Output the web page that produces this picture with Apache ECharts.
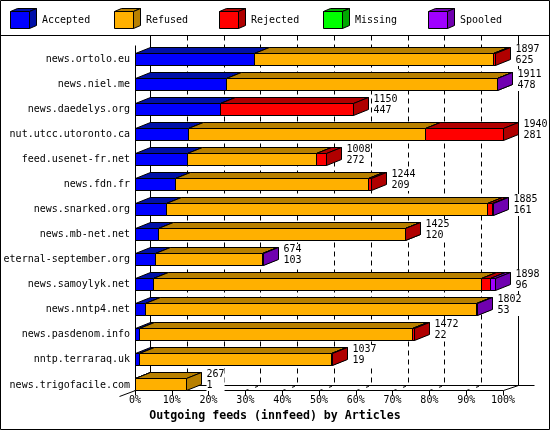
<!DOCTYPE html>
<html><head><meta charset="utf-8">
<script src="https://cdn.jsdelivr.net/npm/echarts@6/dist/echarts.min.js"></script>
<style>html,body{margin:0;padding:0;background:#fff}#c{width:550px;height:430px}</style>
</head><body><div id="c"></div>
<script>
// ---- data ----
const categories = ['news.ortolo.eu','news.niel.me','news.daedelys.org','nut.utcc.utoronto.ca','feed.usenet-fr.net','news.fdn.fr','news.snarked.org','news.mb-net.net','eternal-september.org','news.samoylyk.net','news.nntp4.net','news.pasdenom.info','nntp.terraraq.uk','news.trigofacile.com'];
const offered  = [1897,1911,1150,1940,1008,1244,1885,1425,674,1898,1802,1472,1037,267];
const accepted = [625,478,447,281,272,209,161,120,103,96,53,22,19,1];
const refused  = [1261,1430,0,1249,680,1020,1695,1303,569,1728,1747,1437,1016,266];
const rejected = [11,0,703,410,56,15,27,2,0,49,0,13,2,0];
const missing  = [0,0,0,0,0,0,0,0,0,0,0,0,0,0];
const spooled  = [0,3,0,0,0,0,2,0,2,25,2,0,0,0];
const seriesNames = ['Accepted','Refused','Rejected','Missing','Spooled'];
const axisTitle = 'Outgoing feeds (innfeed) by Articles';

// ---- style ----
const seriesData = [accepted, refused, rejected, missing, spooled];
const frontColors = ['#0000ff','#ffb000','#ff0000','#00ff00','#a000ff'];
const darkColors  = ['#0010a8','#b88000','#b00000','#00a800','#7000b0'];
const FONT = '"DejaVu Sans Mono", monospace';
const DX = 15, DY = -6, WDY = -5, FH = 12;
const maxTotal = Math.max(...offered);
const snap = v => Math.round(v) + 0.5;

function faceTop(cy){ return Math.floor(cy - FH/2) + 0.5; }

function barSeries(k){
  const data = categories.map((c,i)=>{
    let s = 0; for (let j=0;j<k;j++) s += seriesData[j][i];
    const v = seriesData[k][i];
    return [s/maxTotal*100, (s+v)/maxTotal*100, i, v];
  });
  return {
    type:'custom', name:seriesNames[k], data, z:3,
    encode:{x:[0,1], y:2},
    renderItem(params, api){
      if (!api.value(3)) return;
      const i = api.value(2);
      const p1 = api.coord([api.value(0), i]);
      const p2 = api.coord([api.value(1), i]);
      const x1 = snap(p1[0]), x2 = Math.max(x1, snap(p2[0]));
      const t = faceTop(p1[1]), b = t + FH;
      const ls = {stroke:'#000', lineWidth:1};
      return {type:'group', children:[
        {type:'polygon', shape:{points:[[x1,t],[x1+DX,t+DY],[x2+DX,t+DY],[x2,t]]}, style:Object.assign({fill:darkColors[k]}, ls)},
        {type:'polygon', shape:{points:[[x2,t],[x2+DX,t+DY],[x2+DX,b+DY],[x2,b]]}, style:Object.assign({fill:darkColors[k]}, ls)},
        {type:'polygon', shape:{points:[[x1,t],[x2,t],[x2,b],[x1,b]]}, style:Object.assign({fill:frontColors[k]}, ls)}
      ]};
    }
  };
}

const labelSeries = {
  type:'custom', name:'labels', z:5,
  data: categories.map((c,i)=>[offered[i]/maxTotal*100, i, offered[i], accepted[i]]),
  encode:{x:0, y:1},
  renderItem(params, api){
    const p = api.coord([api.value(0), api.value(1)]);
    const t = faceTop(p[1]);
    return {type:'text', x: snap(p[0]) + DX + 5, y: t + FH/2 - 4.5,
      style:{text: api.value(2) + '\n' + api.value(3), fill:'#000', font:'10px ' + FONT,
        lineHeight:11, align:'left', verticalAlign:'middle', backgroundColor:'#fff'}};
  }
};

const frameSeries = {
  type:'custom', name:'frame', z:1, silent:true,
  data:[[0,0]], encode:{x:0,y:1},
  renderItem(params, api){
    const n = categories.length;
    const x0 = snap(api.coord([0,0])[0]);
    const x100 = snap(api.coord([100,0])[0]);
    const cLast = api.coord([0,n-1])[1];
    const front = faceTop(cLast) + FH;
    const back = front + WDY;
    const topY = 35.5;
    const frontTop = 45.5;
    const L = (a,b,c,d,dash)=>({type:'line', shape:{x1:a,y1:b,x2:c,y2:d}, style:{stroke:'#000', lineWidth:1, lineDash:dash||null}});
    const ch = [
      L(x0, frontTop, x0, front),
      L(x0+DX, topY, x0+DX, back),
      L(x100+DX, topY, x100+DX, back),
      L(x0+DX, back, x100+DX+16, back),
      L(x100, front, x100+DX, back),
      L(x0-16, front+6, x0, front)
    ];
    for (let v=10; v<100; v+=10){
      const x = snap(api.coord([v,0])[0]);
      ch.push(L(x+DX, topY, x+DX, back, [5,4]));
      ch.push(L(x, front, x+DX, back, [3,7]));
    }
    return {type:'group', children:ch};
  }
};

// legend graphics
const legendX = [10,114,219,323,428];
const legendGraphics = [];
seriesNames.forEach((nm,k)=>{
  const x = legendX[k] + 0.5, t = 11.5, b = 28.5, w = 19, dx = 7, dy = -3;
  const ls = {stroke:'#000', lineWidth:1};
  legendGraphics.push({type:'polygon', shape:{points:[[x,t],[x+dx,t+dy],[x+w+dx,t+dy],[x+w,t]]}, style:Object.assign({fill:darkColors[k]},ls)});
  legendGraphics.push({type:'polygon', shape:{points:[[x+w,t],[x+w+dx,t+dy],[x+w+dx,b+dy],[x+w,b]]}, style:Object.assign({fill:darkColors[k]},ls)});
  legendGraphics.push({type:'polygon', shape:{points:[[x,t],[x+w,t],[x+w,b],[x,b]]}, style:Object.assign({fill:frontColors[k]},ls)});
  legendGraphics.push({type:'text', x: legendX[k] + 32, y: 20, style:{text:nm, fill:'#000', font:'10px ' + FONT, verticalAlign:'middle', align:'left'}});
});

const chart = echarts.init(document.getElementById('c'), null, {renderer:'canvas'});
chart.setOption({
  animation:false,
  backgroundColor:'#fff',
  title:{text:axisTitle, left:'center', top:405, textStyle:{fontFamily:FONT, fontWeight:'bold', fontSize:11.6, color:'#000'}},
  grid:{left:135, right:47, top:46.5, bottom:32.5, containLabel:false, outerBoundsMode:'none'},
  xAxis:{type:'value', min:0, max:100, interval:10, offset:-7,
    axisLine:{show:true, lineStyle:{color:'#000', width:1}},
    axisTick:{show:true, length:5, lineStyle:{color:'#000'}},
    axisLabel:{formatter:'{value}%', color:'#000', fontFamily:FONT, fontSize:10, margin:5},
    splitLine:{show:false}},
  yAxis:{type:'category', data:categories, inverse:true,
    axisLine:{show:false}, axisTick:{show:false},
    axisLabel:{color:'#000', fontFamily:FONT, fontSize:10, margin:5},
    splitLine:{show:false}},
  graphic:[
    {type:'rect', shape:{x:0.5,y:0.5,width:549,height:429}, style:{fill:null, stroke:'#000', lineWidth:1}, z:10},
    {type:'line', shape:{x1:0,y1:35.5,x2:550,y2:35.5}, style:{stroke:'#000', lineWidth:1}, z:10},
    ...legendGraphics
  ],
  series:[frameSeries, ...seriesNames.map((n,k)=>barSeries(k)), labelSeries]
});
</script></body></html>
